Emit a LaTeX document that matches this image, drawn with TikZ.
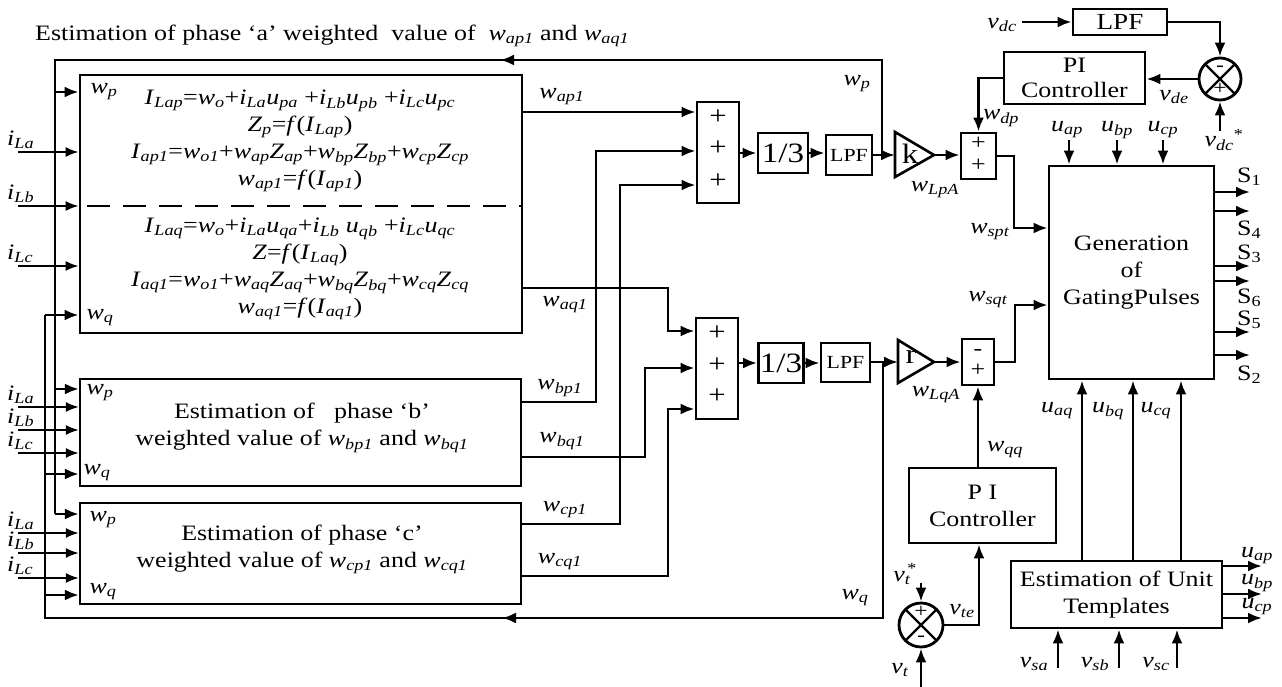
\documentclass[tikz,border=0pt]{standalone}
\usepackage{fontspec}
\setmainfont{Liberation Serif}[FakeStretch=1.18]
\usetikzlibrary{arrows.meta,calc}
\newcommand\sv[2]{\textit{#1}\textsubscript{\textit{#2}}}
\begin{document}
\begin{tikzpicture}[x=1pt,y=-1pt,
 font=\fontsize{22}{27}\selectfont,
 wire/.style={line width=2.7pt},
 thinw/.style={line width=2pt},
 arr/.style={wire,-{Latex[length=14pt,width=11pt]}},
 tarr/.style={thinw,-{Latex[length=13pt,width=10pt]}},
 blk/.style={draw,line width=2.8pt,inner sep=0pt,align=center},
 tbox/.style={draw,line width=2.2pt,inner sep=0pt,align=center},
 lab/.style={inner sep=0pt},
 eq/.style={inner sep=0pt,align=center},
 sgn/.style={inner sep=0pt,text height=9pt,text depth=0pt,font=\fontsize{26}{26}\selectfont},
]
\useasboundingbox (0,0) rectangle (1282,687);

% title
\node[lab,anchor=west] (title) at (35,36) {Estimation of phase ‘a’ weighted\ \ value of\ \ \sv{w}{ap1} and \sv{w}{aq1}};

% phase blocks
\node[blk,minimum width=442pt,minimum height=258pt] (boxA) at (301,204) {};
\node[tbox,minimum width=441pt,minimum height=107pt] (boxB) at (300.5,432.5) {};
\node[tbox,minimum width=441pt,minimum height=101pt] (boxC) at (300.5,553.5) {};

\node[eq] (eqP) at (300,141) {\sv{I}{Lap}=\sv{w}{o}+\sv{i}{La}\sv{u}{pa} +\sv{i}{Lb}\sv{u}{pb} +\sv{i}{Lc}\sv{u}{pc}\\
\sv{Z}{p}=\textit{f}(\sv{I}{Lap})\\
\sv{I}{ap1}=\sv{w}{o1}+\sv{w}{ap}\sv{Z}{ap}+\sv{w}{bp}\sv{Z}{bp}+\sv{w}{cp}\sv{Z}{cp}\\
\sv{w}{ap1}=\textit{f}(\sv{I}{ap1})};
\node[eq] (eqQ) at (300,269) {\sv{I}{Laq}=\sv{w}{o}+\sv{i}{La}\sv{u}{qa}+\sv{i}{Lb} \sv{u}{qb} +\sv{i}{Lc}\sv{u}{qc}\\
\textit{Z}=\textit{f}(\sv{I}{Laq})\\
\sv{I}{aq1}=\sv{w}{o1}+\sv{w}{aq}\sv{Z}{aq}+\sv{w}{bq}\sv{Z}{bq}+\sv{w}{cq}\sv{Z}{cq}\\
\sv{w}{aq1}=\textit{f}(\sv{I}{aq1})};
\draw[wire,dash pattern=on 23pt off 13pt,dash phase=-8pt] (boxA.west |- 0,206) -- (boxA.east |- 0,206);

\node[eq] (txtB) at (302,428) {Estimation of\ \ \ phase ‘b’\\weighted value of \sv{w}{bp1} and \sv{w}{bq1}};
\node[eq] (txtC) at (302,549) {Estimation of phase ‘c’\\weighted value of \sv{w}{cp1} and \sv{w}{cq1}};

\node[lab] (awp) at (104,92) {\sv{w}{p}};
\node[lab] (awq) at (100,318) {\sv{w}{q}};
\node[lab] (bwp) at (100,393) {\sv{w}{p}};
\node[lab] (bwq) at (97,473) {\sv{w}{q}};
\node[lab] (cwp) at (103,520) {\sv{w}{p}};
\node[lab] (cwq) at (103,592) {\sv{w}{q}};

% load current inputs
\foreach \y/\s in {152/La,206/Lb,266/Lc}{
  \draw[tarr] (18,\y) -- (boxA.west |- 0,\y);
  \node[lab,anchor=south west] at (7,\y-3) {\sv{i}{\s}};}
\foreach \y/\s in {407/La,430/Lb,453/Lc}{
  \draw[tarr] (18,\y) -- (boxB.west |- 0,\y);
  \node[lab,anchor=south west] at (7,\y-3) {\sv{i}{\s}};}
\foreach \y/\s in {533/La,553/Lb,578/Lc}{
  \draw[tarr] (18,\y) -- (boxC.west |- 0,\y);
  \node[lab,anchor=south west] at (7,\y-3) {\sv{i}{\s}};}

% summers
\node[blk,minimum width=42pt,minimum height=101pt] (sum1) at (718,152.5) {};
\foreach \y in {120,151,184} \node[sgn] at (718,\y) {+};
\node[blk,minimum width=42pt,minimum height=101pt] (sum2) at (717,368.5) {};
\foreach \y in {336,368,399} \node[sgn] at (717,\y) {+};
\node[blk,minimum width=50pt,minimum height=40pt,font=\fontsize{28}{28}\selectfont] (th1) at (783,153) {1/3};
\node[blk,minimum width=45pt,minimum height=40pt,font=\fontsize{28}{28}\selectfont] (th2) at (781,363) {1/3};
\node[blk,minimum width=46pt,minimum height=40pt,font=\fontsize{18.5}{18.5}\selectfont] (lpf1) at (849,155) {LPF};
\node[blk,minimum width=49pt,minimum height=39pt,font=\fontsize{18.5}{18.5}\selectfont] (lpf2) at (845.5,362.5) {LPF};

% gains
\draw[line width=2.6pt] (895,132) -- (934,155) -- (895,177) -- cycle;
\node[lab,font=\fontsize{28}{28}\selectfont] (gk) at (910,154) {k};
\coordinate (Kin) at (895,155);
\coordinate (Kout) at (934,155);
\draw[line width=2.6pt] (898,340) -- (934,362) -- (898,383) -- cycle;
\node[lab,font=\fontsize{28}{28}\selectfont] (gr) at (911,357) {r};
\coordinate (rin) at (898,362);
\coordinate (rout) at (934,362);

\node[blk,minimum width=35pt,minimum height=46pt] (sum3) at (978.5,156) {};
\node[sgn,font=\fontsize{22}{22}\selectfont] (s3a) at (978.5,145) {+};
\node[sgn,font=\fontsize{22}{22}\selectfont] (s3b) at (978.5,167) {+};
\node[blk,minimum width=32pt,minimum height=46pt] (sum4) at (978,362) {};
\node[sgn,font=\fontsize{22}{22}\selectfont] (s4a) at (978,351) {-};
\node[sgn,font=\fontsize{22}{22}\selectfont] (s4b) at (978,372) {+};

\node[blk,minimum width=141pt,minimum height=52pt,font=\fontsize{22}{25}\selectfont] (pi1) at (1074.5,78) {PI\\Controller};
\node[blk,minimum width=94pt,minimum height=26pt,font=\fontsize{23}{23}\selectfont] (lpfdc) at (1120,22) {LPF};
\node[circle,draw,line width=2.8pt,minimum size=42pt,inner sep=0pt,
  path picture={\draw[line width=2.4pt] (path picture bounding box.north west) -- (path picture bounding box.south east)
  (path picture bounding box.north east) -- (path picture bounding box.south west);}] (circ1) at (1220,79) {};
\node[sgn,font=\fontsize{20}{20}\selectfont] (c1m) at (1220,67) {-};
\node[sgn,font=\fontsize{20}{20}\selectfont] (c1p) at (1220,90) {+};

\node[blk,minimum width=165pt,minimum height=213pt] (gate) at (1131.5,272.5) {Generation\\of\\GatingPulses};

\node[blk,minimum width=147pt,minimum height=75pt] (pi2) at (982.5,505.5) {P I\\Controller};
\node[circle,draw,line width=2.8pt,minimum size=44pt,inner sep=0pt,
  path picture={\draw[line width=2.4pt] (path picture bounding box.north west) -- (path picture bounding box.south east)
  (path picture bounding box.north east) -- (path picture bounding box.south west);}] (circ2) at (921,625) {};
\node[sgn,font=\fontsize{20}{20}\selectfont] (c2p) at (921,613) {+};
\node[sgn,font=\fontsize{20}{20}\selectfont] (c2m) at (921,637) {-};

\node[blk,minimum width=211pt,minimum height=67pt] (unit) at (1116.5,594.5) {Estimation of Unit\\Templates};

% feedback buses
\coordinate (pj) at (882,155);
\draw[wire] (pj) -- (882,60) -- (55,60) -- (55,514);
\draw[arr] (882,60) -- (500,60);
\draw[arr] (55,92) -- (boxA.west |- 0,92);
\draw[arr] (55,389) -- (boxB.west |- 0,389);
\draw[arr] (55,514) -- (boxC.west |- 0,514);

\coordinate (qj) at (883,362);
\draw[wire] (qj) -- (883,618) -- (45,618) -- (45,315);
\draw[arr] (883,618) -- (502,618);
\draw[arr] (45,315) -- (boxA.west |- 0,315);
\draw[arr] (45,474) -- (boxB.west |- 0,474);
\draw[arr] (45,595) -- (boxC.west |- 0,595);

% phase outputs
\draw[arr] (boxA.east |- 0,112) -- (sum1.west |- 0,112);
\draw[arr] (boxA.east |- 0,288) -- (668,288) -- (668,331) -- (sum2.west |- 0,331);
\draw[arr] (boxB.east |- 0,402) -- (596,402) -- (596,151) -- (sum1.west |- 0,151);
\draw[arr] (boxB.east |- 0,457) -- (645,457) -- (645,368) -- (sum2.west |- 0,368);
\draw[arr] (boxC.east |- 0,524) -- (620,524) -- (620,185) -- (sum1.west |- 0,185);
\draw[arr] (boxC.east |- 0,576) -- (668,576) -- (668,409) -- (sum2.west |- 0,409);

% chains
\draw[arr] (sum1.east |- th1.west) -- (th1.west);
\draw[arr] (th1.east) -- (lpf1.west |- th1.east);
\draw[arr] (lpf1.east) -- (Kin);
\draw[arr] (Kout) -- (sum3.west |- Kout);
\draw[arr] (sum3.east) -- (1014,156) -- (1014,228) -- (gate.west |- 0,228);
\draw[arr] (pi1.west) -| (sum3.north);

\coordinate (vdcin) at (1022,22);
\draw[arr] (vdcin) -- (lpfdc.west);
\draw[arr] (lpfdc.east) -| (circ1.north);
\draw[arr] (circ1.west) -- (pi1.east |- circ1.west);
\coordinate (vdcref) at (1220,131);
\draw[arr] (vdcref) -- (circ1.south);

\draw[arr] (sum2.east |- th2.west) -- (th2.west);
\draw[arr] (th2.east) -- (lpf2.west |- th2.east);
\draw[arr] (lpf2.east |- rin) -- (rin);
\draw[arr] (rout) -- (sum4.west |- rout);
\draw[arr] (sum4.east) -- (1015,362) -- (1015,305) -- (gate.west |- 0,305);
\draw[arr] (pi2.north -| sum4.south) -- (sum4.south);
\draw[arr] (circ2.east) -- (979,625) -- (pi2.south -| 979,0);
\coordinate (vtref) at (921,583);
\coordinate (vtin) at (921,687);
\draw[arr] (vtref) -- (circ2.north);
\draw[arr] (vtin) -- (circ2.south);

\foreach \x in {1069,1117,1163} \draw[arr] (\x,140) -- (gate.north -| \x,0);
\foreach \x in {1082,1133,1181} \draw[arr] (unit.north -| \x,0) -- (gate.south -| \x,0);
\foreach \y in {566,594,618} \draw[arr] (unit.east |- 0,\y) -- (1262,\y);
\foreach \x in {1058,1119,1177} \draw[arr] (\x,668) -- (unit.south -| \x,0);
\foreach \y in {192,211,266,281,332,355} \draw[arr] (gate.east |- 0,\y) -- (1250,\y);

% labels
\node[lab] (lwp) at (857,84) {\sv{w}{p}};
\node[lab] (lwq) at (855,598) {\sv{w}{q}};
\node[lab] (lap1) at (562,97) {\sv{w}{ap1}};
\node[lab] (laq1) at (565,305) {\sv{w}{aq1}};
\node[lab] (lbp1) at (560,388) {\sv{w}{bp1}};
\node[lab] (lbq1) at (562,441) {\sv{w}{bq1}};
\node[lab] (lcp1) at (565,510) {\sv{w}{cp1}};
\node[lab] (lcq1) at (560,562) {\sv{w}{cq1}};
\node[lab] (llpa) at (935,190) {\sv{w}{LpA}};
\node[lab] (llqa) at (936,395) {\sv{w}{LqA}};
\node[lab] (ldp) at (1001,118) {\sv{w}{dp}};
\node[lab] (lspt) at (990,232) {\sv{w}{spt}};
\node[lab] (lsqt) at (988,300) {\sv{w}{sqt}};
\node[lab] (luap) at (1067,130) {\sv{u}{ap}};
\node[lab] (lubp) at (1117,130) {\sv{u}{bp}};
\node[lab] (lucp) at (1163,130) {\sv{u}{cp}};
\node[lab] (lvde) at (1174,97) {\sv{v}{de}};
\node[lab] (lvdc) at (1002,25) {\sv{v}{dc}};
\node[lab] (lvdcr) at (1224,140) {\sv{v}{dc}\textsuperscript{*}};
\foreach \y/\n in {177/1,230/4,254/3,298/6,320/5,375/2}
  \node[lab,anchor=west] at (1237,\y) {S\textsubscript{\n}};
\node[lab] (luaq) at (1057,411) {\sv{u}{aq}};
\node[lab] (lubq) at (1108,411) {\sv{u}{bq}};
\node[lab] (lucq) at (1156,411) {\sv{u}{cq}};
\node[lab] (lwqq) at (1005,450) {\sv{w}{qq}};
\node[lab] (lvtr) at (902,574) {\textit{v}\rlap{\textsuperscript{\,*}}\textsubscript{\textit{t}}};
\node[lab] (lvt) at (900,670) {\sv{v}{t}};
\node[lab] (lvte) at (962,611) {\sv{v}{te}};
\node[lab] (luapo) at (1257,556) {\sv{u}{ap}};
\node[lab] (lubpo) at (1257,583) {\sv{u}{bp}};
\node[lab] (lucpo) at (1257,607) {\sv{u}{cp}};
\node[lab] (lvsa) at (1034,664) {\sv{v}{sa}};
\node[lab] (lvsb) at (1095,664) {\sv{v}{sb}};
\node[lab] (lvsc) at (1156,664) {\sv{v}{sc}};
\end{tikzpicture}
\end{document}
